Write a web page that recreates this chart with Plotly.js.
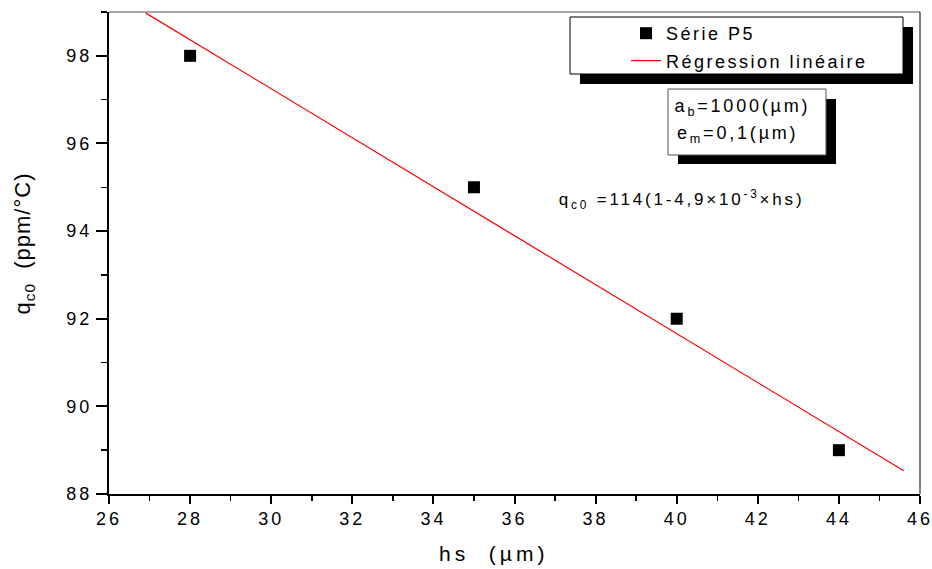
<!DOCTYPE html>
<html>
<head>
<meta charset="utf-8">
<script src="https://cdn.plot.ly/plotly-3.0.1.min.js"></script>
<style>
html,body{margin:0;padding:0;background:#fff;}
.xtick text,.ytick text{letter-spacing:3px;}
.legendtext{letter-spacing:2.5px;}
.annotation text{letter-spacing:2.8px;}
.annotation[data-index="3"] text{letter-spacing:4px;}
.annotation[data-index="4"] text{letter-spacing:1px;}
</style>
</head>
<body>
<div id="chart" style="width:932px;height:569px;"></div>
<script>
// ---- data ----
const hs = [28, 35, 40, 44];            // µm
const qc0 = [98, 95, 92, 89];           // ppm/°C
const fitHs = [26.9, 45.6];             // regression line ends (µm)
const fitQ = [98.98, 88.53];            // regression line ends (ppm/°C)
const seriesNames = ['Série P5', 'Régression linéaire'];
const xTickVals = [26, 28, 30, 32, 34, 36, 38, 40, 42, 44, 46];
const yTickVals = [88, 90, 92, 94, 96, 98];

// ---- layout helpers (pixel -> paper) ----
const L = 109, R = 920, T = 12, B = 494;
const W = R - L, H = B - T;
const px = x => (x - L) / W;
const py = y => (B - y) / H;
const FONT = 'Liberation Sans, Arial, sans-serif';

const traces = [
  {
    x: hs, y: qc0, type: 'scatter', mode: 'markers', name: seriesNames[0],
    marker: {symbol: 'square', size: 12, color: '#000'},
    legendgroup: 'a', cliponaxis: false
  },
  {
    x: fitHs, y: fitQ, type: 'scatter', mode: 'lines', name: seriesNames[1],
    line: {color: '#ff0000', width: 1.2},
    legendgroup: 'b'
  }
];

const layout = {
  width: 932, height: 569,
  margin: {l: L, r: 932 - R, t: T, b: 569 - B},
  paper_bgcolor: '#fff', plot_bgcolor: '#fff',
  font: {family: FONT, color: '#000', size: 17},
  showlegend: true,
  legend: {
    x: px(626), y: py(15), xanchor: 'left', yanchor: 'top',
    bgcolor: 'rgba(0,0,0,0)', borderwidth: 0,
    font: {family: FONT, size: 18, color: '#000'},
    tracegroupgap: 1
  },
  xaxis: {
    range: [26, 46], tickvals: xTickVals, ticks: 'outside', ticklen: 8, tickwidth: 2,
    tickcolor: '#000', showgrid: false, zeroline: false,
    showline: true, linecolor: '#000', linewidth: 1.5,
    tickfont: {family: FONT, size: 18}, ticklabeloverflow: 'allow',
    minor: {dtick: 1, ticks: 'outside', ticklen: 5, tickwidth: 1.5, tickcolor: '#000', showgrid: false}
  },
  yaxis: {
    range: [88, 99], tickvals: yTickVals, ticks: 'outside', ticklen: 11, tickwidth: 2,
    tickcolor: '#000', showgrid: false, zeroline: false,
    showline: true, linecolor: '#000', linewidth: 2,
    tickfont: {family: FONT, size: 18},
    minor: {dtick: 1, ticks: 'outside', ticklen: 6, tickwidth: 1.5, tickcolor: '#000', showgrid: false}
  },
  shapes: [
    {type: 'line', xref: 'paper', yref: 'paper', x0: 0, x1: 1, y0: 1, y1: 1, line: {color: '#888', width: 1.5}},
    {type: 'line', xref: 'paper', yref: 'paper', x0: 1, x1: 1, y0: 0, y1: 1, line: {color: '#000', width: 1}},
    {type: 'rect', xref: 'paper', yref: 'paper', x0: px(580), x1: px(913), y0: py(84), y1: py(27), fillcolor: '#000', line: {width: 0}},
    {type: 'rect', xref: 'paper', yref: 'paper', x0: px(570), x1: px(903), y0: py(74), y1: py(17), fillcolor: '#fff', line: {color: '#000', width: 1}},
    {type: 'rect', xref: 'paper', yref: 'paper', x0: px(678), x1: px(836), y0: py(164), y1: py(99), fillcolor: '#000', line: {width: 0}},
    {type: 'rect', xref: 'paper', yref: 'paper', x0: px(668), x1: px(826), y0: py(155), y1: py(89), fillcolor: '#fff', line: {color: '#555', width: 1}}
  ],
  annotations: [
    {xref: 'paper', yref: 'paper', x: px(742), y: py(108), xanchor: 'center', yanchor: 'middle',
     showarrow: false, font: {family: FONT, size: 18, color: '#000'},
     text: 'a<sub>b</sub>=1000(µm)'},
    {xref: 'paper', yref: 'paper', x: px(737), y: py(134), xanchor: 'center', yanchor: 'middle',
     showarrow: false, font: {family: FONT, size: 18, color: '#000'},
     text: 'e<sub>m</sub>=0,1(µm)'},
    {xref: 'paper', yref: 'paper', x: px(681), y: py(200), xanchor: 'center', yanchor: 'middle',
     showarrow: false, font: {family: FONT, size: 17, color: '#000'},
     text: 'q<sub>c0</sub> =114(1-4,9×10<sup>-3</sup>×hs)'},
    {xref: 'paper', yref: 'paper', x: px(493), y: py(553), xanchor: 'center', yanchor: 'middle',
     showarrow: false, font: {family: FONT, size: 21, color: '#000'},
     text: 'hs\u00a0\u00a0(µm)'},
    {xref: 'paper', yref: 'paper', x: px(24), y: py(244), xanchor: 'center', yanchor: 'middle',
     showarrow: false, textangle: -90, font: {family: FONT, size: 22, color: '#000'},
     text: 'q<sub>c0</sub>\u00a0\u00a0(ppm/°C)'}
  ]
};

Plotly.newPlot('chart', traces, layout, {displayModeBar: false, staticPlot: true});
</script>
</body>
</html>
